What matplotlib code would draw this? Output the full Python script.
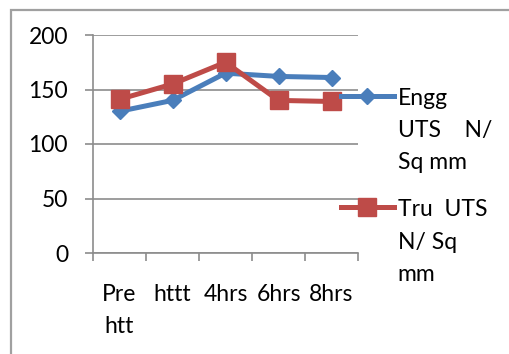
import matplotlib
matplotlib.use("Agg")
from matplotlib import pyplot as plt
from matplotlib.patches import Rectangle

# 数据
categories = ["Pre\nhtt", "httt", "4hrs", "6hrs", "8hrs"]
engg_uts = [130, 140, 165, 162, 161]
tru_uts = [141, 155, 175, 140, 139]
legend_labels = ["Engg\nUTS    N/\nSq mm", "Tru  UTS\nN/ Sq\nmm"]
y_ticks = [0, 50, 100, 150, 200]

plt.rcParams['font.family'] = ['Lato', 'DejaVu Sans']
fs = 16.5
grey = "#8c8c8c"

fig = plt.figure(figsize=(5.09, 3.54), dpi=100)
# 外框
fig.patches.append(Rectangle((11 / 509, -0.05), 1.2, 1 - 10 / 354 + 0.05,
                             transform=fig.transFigure, fill=False,
                             edgecolor="#a0a0a0", linewidth=1.6))

ax = fig.add_axes([93 / 509, 101 / 354, 265 / 509, 218 / 354])
x = list(range(len(categories)))
ax.plot(x, engg_uts, color="#4a7ebb", linewidth=3.6, marker="D",
        markersize=8.5, label=legend_labels[0])
ax.plot(x, tru_uts, color="#be4b48", linewidth=3.6, marker="s",
        markersize=13.5, label=legend_labels[1])

ax.set_xlim(-0.5, len(categories) - 0.5)
ax.set_ylim(0, 200)
ax.set_yticks(y_ticks)
ax.set_xticks(x)
ax.set_xticklabels(categories, fontsize=fs, linespacing=1.65, va="top")
ax.set_xticks([i - 0.5 for i in range(len(categories) + 1)], minor=True)
ax.tick_params(axis="x", which="major", length=0, pad=22)
ax.tick_params(axis="x", which="minor", length=6, width=1.2, color=grey,
               direction="out")
ax.tick_params(axis="y", length=6, width=1.2, color=grey, pad=12,
               labelsize=fs)
ax.yaxis.grid(True, color=grey, linewidth=1.2)
ax.set_axisbelow(True)
for s in ["top", "right"]:
    ax.spines[s].set_visible(False)
for s in ["left", "bottom"]:
    ax.spines[s].set_color(grey)
    ax.spines[s].set_linewidth(1.2)

leg = fig.legend(loc="upper left", bbox_to_anchor=(341 / 509, 1 - 88 / 354),
                 frameon=False, fontsize=fs, handlelength=2.3,
                 handletextpad=0.18, labelspacing=1.15, borderpad=0,
                 borderaxespad=0)
for t in leg.get_texts():
    t.set_linespacing(1.65)
# 图例符号与第一行文字对齐
for hp in leg._legend_handle_box.get_children():
    for c in hp.get_children():
        c.align = "top"

fig.savefig("out.png", dpi=100)
